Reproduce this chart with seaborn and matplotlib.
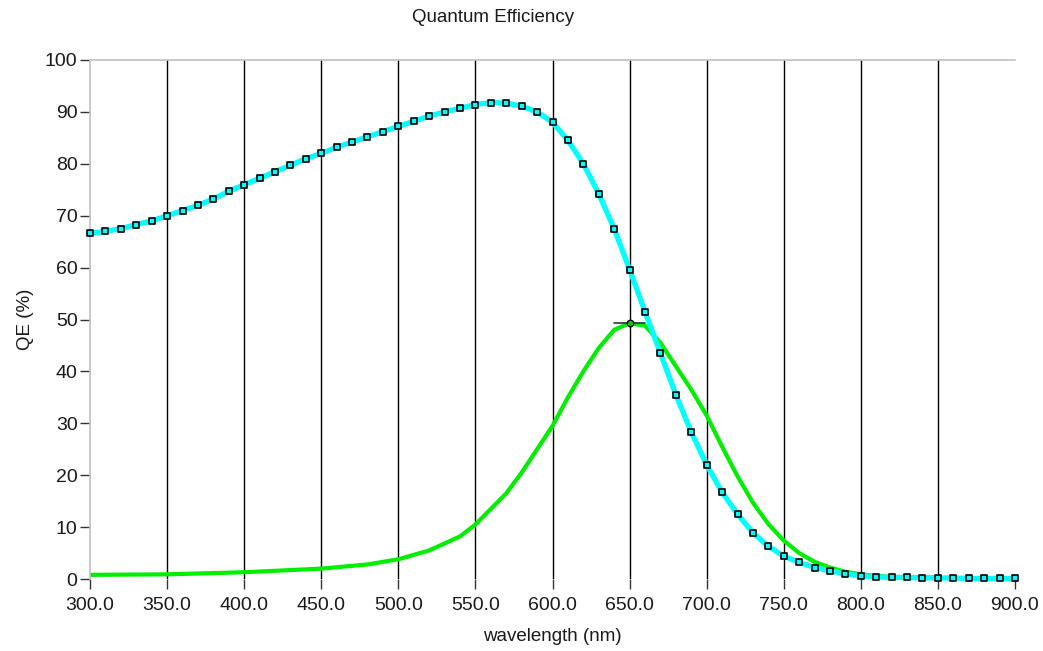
"""
Quantum efficiency curves: sensor QE (cyan, with sample markers) and
a spectral response (green), wavelength in nm.
"""

import matplotlib
matplotlib.use("Agg")
import matplotlib.pyplot as plt
import numpy as np
import pandas as pd
import seaborn as sns

sns.set_theme(style="white")
plt.rcParams["font.family"] = ["Liberation Sans", "DejaVu Sans"]

# sensor QE, sampled every 10 nm
qe_wavelength = list(range(300, 910, 10))
qe_values = [
    66.6, 67.0, 67.5, 68.3, 69.0, 70.0, 71.0, 72.0, 73.2, 74.7,
    76.0, 77.2, 78.5, 79.7, 81.0, 82.0, 83.2, 84.2, 85.2, 86.2,
    87.2, 88.2, 89.2, 90.0, 90.7, 91.4, 91.8, 91.7, 91.1, 90.0,
    88.0, 84.5, 80.0, 74.2, 67.5, 59.6, 51.5, 43.5, 35.5, 28.3,
    22.0, 16.7, 12.5, 8.9, 6.3, 4.4, 3.2, 2.2, 1.6, 1.0,
    0.6, 0.4, 0.3, 0.3, 0.2, 0.2, 0.2, 0.1, 0.1, 0.1, 0.1,
]

# spectral response curve (no markers)
resp_wavelength = [300, 350, 400, 450, 480, 500, 520, 540, 550, 560,
                   570, 580, 590, 600, 610, 620, 630, 640, 650, 660,
                   670, 680, 690, 700, 710, 720, 730, 740, 750, 760,
                   770, 780, 790, 800, 810, 820, 850]
resp_values = [0.8, 0.9, 1.3, 2.0, 2.8, 3.8, 5.5, 8.2, 10.5, 13.5,
               16.5, 20.5, 25.0, 29.5, 35.0, 40.0, 44.5, 48.0, 49.3, 48.8,
               45.5, 41.0, 36.5, 31.5, 25.5, 19.8, 14.7, 10.6, 7.4, 5.0,
               3.3, 2.2, 1.4, 0.9, 0.6, 0.4, 0.3]

cursor_x, cursor_y = 650, 49.3

x_ticks = list(range(300, 950, 50))
y_ticks = list(range(0, 110, 10))

qe = pd.DataFrame({"wavelength": qe_wavelength, "qe": qe_values})
resp = pd.DataFrame({"wavelength": resp_wavelength, "qe": resp_values})

fig = plt.figure(figsize=(10.43, 6.51), dpi=100)
ax = fig.add_axes([90 / 1043, 1 - 579 / 651, 925 / 1043, 519 / 651])

for x in x_ticks[1:-1]:
    ax.axvline(x, color="black", lw=1.0, zorder=1)

sns.lineplot(data=resp, x="wavelength", y="qe", color="#00ee00", lw=3,
             ax=ax, zorder=2)
sns.lineplot(data=qe, x="wavelength", y="qe", color="#00ffff", lw=3.8,
             ax=ax, zorder=3, clip_on=False)
ax.scatter(qe["wavelength"], qe["qe"], marker="s", s=24, facecolor="#00ffff",
           edgecolor="black", linewidth=1.2, zorder=4, clip_on=False)

# cursor
ax.plot([cursor_x - 10, cursor_x + 10], [cursor_y, cursor_y], color="#333344",
        lw=1.2, zorder=5)
ax.scatter([cursor_x], [cursor_y], s=22, facecolor="#00cc00", edgecolor="black",
           linewidth=1, zorder=6)

ax.set_xlim(300, 900)
ax.set_ylim(0, 100)
ax.set_xticks(x_ticks)
ax.set_xticklabels([f"{v:.1f}" for v in x_ticks])
ax.set_yticks(y_ticks)
ax.set_yticklabels([str(v) for v in y_ticks])
ax.tick_params(axis="both", direction="out", length=7, width=1, color="#333333",
               labelsize=14, labelcolor="#1a1a1a", bottom=True, left=True)
ax.tick_params(axis="x", pad=6)
ax.tick_params(axis="y", pad=2)

for side in ["right", "bottom"]:
    ax.spines[side].set_visible(False)
for side in ["left", "top"]:
    ax.spines[side].set_color("#c0c0c0")
    ax.spines[side].set_linewidth(1.2)

ax.set_xlabel("wavelength (nm)", fontsize=13.5, color="#1a1a1a", labelpad=10)
ax.set_ylabel("QE (%)", fontsize=13.5, color="#1a1a1a", labelpad=8)
fig.text(493 / 1043, 1 - 18 / 651, "Quantum Efficiency", ha="center", va="center",
         fontsize=13.5, color="#1a1a1a")

fig.savefig("out.png", dpi=100)
